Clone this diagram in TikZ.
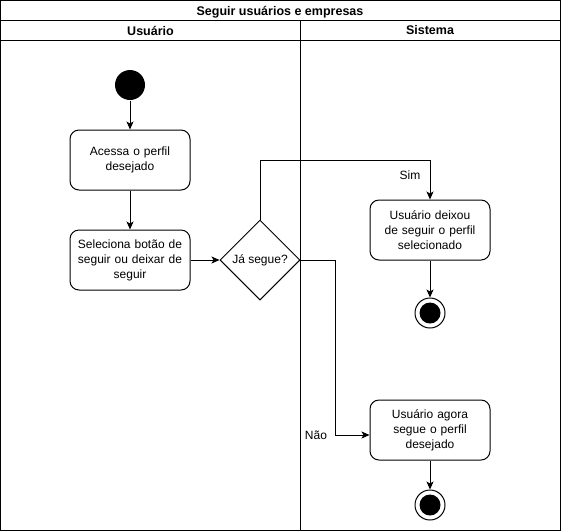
\documentclass[tikz,border=0pt]{standalone}
\usepackage{fontspec}
\setmainfont{Liberation Sans}
\usetikzlibrary{arrows.meta,shapes.geometric}
\begin{document}
\begin{tikzpicture}[x=1pt,y=-1pt,line width=1pt,
  every node/.style={font=\fontsize{12}{15}\selectfont},
  actbox/.style={draw,rounded corners=9pt,minimum width=120pt,minimum height=60pt,align=center,text width=114pt,inner sep=0pt},
  decision/.style={draw,diamond,minimum width=80pt,minimum height=80pt,inner sep=0pt,aspect=1},
  startdot/.style={circle,fill=black,minimum size=30pt,inner sep=0pt},
  enddot/.style={circle,draw,minimum size=30pt,inner sep=0pt,path picture={\fill (path picture bounding box.center) circle (10.5pt);}},
  flow/.style={-{Stealth[length=8pt,width=7pt,inset=2pt]}},
  lbl/.style={font=\fontsize{12}{15}\selectfont},
  hdr/.style={font=\bfseries\fontsize{12.5}{15}\selectfont}]
\useasboundingbox (0,0) rectangle (561,531);
% pool
\draw (0.5,0.5) rectangle (560,530);
\draw (0.5,20.5) -- (560,20.5);
\draw (0.5,40.5) -- (560,40.5);
\draw (300.5,20.5) -- (300.5,530);
\node[hdr] (title) at (280,12) {Seguir usuários e empresas};
\node[hdr] (lane1) at (150.5,30.5) {Usuário};
\node[hdr] (lane2) at (430,30.5) {Sistema};
% nodes
\node[startdot] (start) at (130,85) {};
\node[actbox] (acc) at (130,160) {Acessa o perfil\\desejado};
\node[actbox] (sel) at (130,260) {Seleciona botão de\\seguir ou deixar de\\seguir};
\node[decision] (dec) at (260,260) {Já segue?};
\node[actbox] (deix) at (430,230) {Usuário deixou\\de seguir o perfil\\selecionado};
\node[enddot] (end1) at (430,313) {};
\node[actbox] (segue) at (430,430) {Usuário agora\\segue o perfil\\desejado};
\node[enddot] (end2) at (430,505) {};
% connectors
\draw[flow] (start) -- (acc);
\draw[flow] (acc) -- (sel);
\draw[flow] (sel) -- (dec);
\draw[flow] (dec.north) -- (260,160) -- (430,160) -- (deix.north);
\node[lbl] (sim) at (410,175) {Sim};
\draw[flow] (deix) -- (end1);
\draw[flow] (dec.east) -- (335,260) -- (335,435) -- (segue.west |- 0,435);
\node[lbl] (nao) at (316,435) {Não};
\draw[flow] (segue) -- (end2);
\end{tikzpicture}
\end{document}
